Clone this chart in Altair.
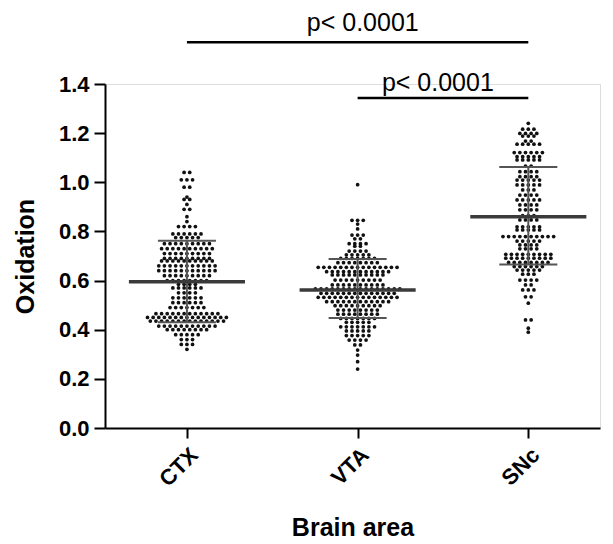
import altair as alt
import pandas as pd

groups = ["CTX", "VTA", "SNc"]

# dot rows: value level and number of dots in the row
ctx_vals = [1.04, 1.01, 0.98, 0.94, 0.93, 0.91, 0.89, 0.86, 0.84, 0.82, 0.79, 0.775, 0.75, 0.73, 0.71, 0.69,
            0.68, 0.66, 0.64, 0.62, 0.60, 0.585, 0.57, 0.55, 0.53, 0.51, 0.49, 0.465, 0.45, 0.435, 0.415,
            0.40, 0.38, 0.36, 0.34, 0.32]
ctx_counts = [2, 3, 2, 1, 2, 1, 2, 1, 1, 4, 6, 5, 9, 10, 9, 9,
              10, 11, 11, 9, 8, 4, 6, 4, 6, 6, 7, 12, 15, 14, 11,
              8, 5, 3, 3, 1]

vta_vals = [0.99, 0.845, 0.83, 0.81, 0.785, 0.77, 0.75, 0.74, 0.72, 0.705, 0.69, 0.673, 0.654, 0.636, 0.623,
            0.602, 0.582, 0.566, 0.548, 0.532, 0.514, 0.498, 0.48, 0.463, 0.446, 0.43, 0.412, 0.395, 0.376,
            0.358, 0.338, 0.317, 0.297, 0.27, 0.24]
vta_counts = [1, 3, 1, 1, 3, 2, 4, 2, 4, 5, 7, 8, 15, 12, 10,
              9, 10, 16, 14, 15, 12, 9, 8, 8, 7, 5, 7, 5, 5,
              4, 2, 1, 1, 1, 1]

snc_vals = [1.24, 1.216, 1.199, 1.188, 1.168, 1.155, 1.121, 1.104, 1.091, 1.066, 1.043, 1.023, 1.009, 0.989,
            0.969, 0.948, 0.928, 0.908, 0.888, 0.864, 0.847, 0.819, 0.806, 0.779, 0.761, 0.745, 0.729, 0.707,
            0.691, 0.674, 0.657, 0.643, 0.626, 0.602, 0.582, 0.562, 0.534, 0.508, 0.44, 0.406, 0.39]
snc_counts = [1, 3, 4, 3, 2, 5, 6, 5, 5, 2, 4, 4, 5, 5,
              3, 4, 5, 4, 4, 3, 4, 5, 5, 10, 5, 4, 4, 9,
              9, 8, 6, 5, 3, 4, 2, 3, 2, 1, 2, 1, 1]

means = [0.595, 0.562, 0.86]
sd_upper = [0.762, 0.688, 1.062]
sd_lower = [0.43, 0.448, 0.665]

sig_labels = ["p< 0.0001", "p< 0.0001"]
sig_from = [0, 1]
sig_to = [2, 2]
sig_level = [1.57, 1.343]
sig_text_level = [1.65, 1.405]

# layout constants (x in category units)
STEP = 0.033
MEAN_HALF = 0.34
CAP_HALF = 0.17

rows = []
for gi, (vals, counts) in enumerate([(ctx_vals, ctx_counts), (vta_vals, vta_counts), (snc_vals, snc_counts)]):
    for v, n in zip(vals, counts):
        for i in range(n):
            rows.append({"group": groups[gi], "x": gi + (i - (n - 1) / 2) * STEP, "value": v})
dots = pd.DataFrame(rows)

stats = pd.DataFrame({
    "group": groups,
    "idx": [0, 1, 2],
    "mean": means,
    "hi": sd_upper,
    "lo": sd_lower,
})
stats["m0"] = stats["idx"] - MEAN_HALF
stats["m1"] = stats["idx"] + MEAN_HALF
stats["c0"] = stats["idx"] - CAP_HALF
stats["c1"] = stats["idx"] + CAP_HALF

sig = pd.DataFrame({"label": sig_labels, "x0": sig_from, "x1": sig_to, "y": sig_level, "ty": sig_text_level})
sig["xm"] = (sig["x0"] + sig["x1"]) / 2 + pd.Series([0.03, -0.03])

FONT = "Liberation Sans"
xscale = alt.Scale(domain=[-0.48, 2.42], nice=False, zero=False)
yscale = alt.Scale(domain=[0, 1.4], nice=False)

label_expr = "datum.value == 0 ? 'CTX' : datum.value == 1 ? 'VTA' : 'SNc'"

xaxis = alt.Axis(values=[0, 1, 2], labelExpr=label_expr, title="Brain area", labelAngle=-45,
                 labelFontSize=22, labelFontWeight="bold", labelFont=FONT, labelColor="black",
                 titleFontSize=25, titleFontWeight="bold", titleFont=FONT, titleColor="black",
                 titlePadding=26, labelPadding=6, tickSize=10, tickWidth=2, tickColor="black",
                 domainWidth=2, domainColor="black", grid=False)
yaxis = alt.Axis(values=[0, 0.2, 0.4, 0.6, 0.8, 1.0, 1.2, 1.4], format=".1f", title="Oxidation",
                 labelFontSize=22, labelFontWeight="bold", labelFont=FONT, labelColor="black",
                 titleFontSize=25, titleFontWeight="bold", titleFont=FONT, titleColor="black",
                 titlePadding=20, labelPadding=5, tickSize=11, tickWidth=2, tickColor="black",
                 domainWidth=2, domainColor="black", grid=False)

points = alt.Chart(dots).mark_circle(size=14, color="#111111", opacity=1).encode(
    x=alt.X("x:Q", scale=xscale, axis=xaxis),
    y=alt.Y("value:Q", scale=yscale, axis=yaxis),
)

vline = alt.Chart(stats).mark_rule(color="#555555", strokeWidth=2).encode(
    x="idx:Q", y="lo:Q", y2="hi:Q")
caps_hi = alt.Chart(stats).mark_rule(color="#555555", strokeWidth=2).encode(
    x="c0:Q", x2="c1:Q", y="hi:Q")
caps_lo = alt.Chart(stats).mark_rule(color="#555555", strokeWidth=2).encode(
    x="c0:Q", x2="c1:Q", y="lo:Q")
mean_line = alt.Chart(stats).mark_rule(color="#3a3a3a", strokeWidth=3.5).encode(
    x="m0:Q", x2="m1:Q", y="mean:Q")

sig_rules = alt.Chart(sig).mark_rule(color="black", strokeWidth=2.5, clip=False).encode(
    x="x0:Q", x2="x1:Q", y="y:Q")
sig_text = alt.Chart(sig).mark_text(font=FONT, fontSize=25, color="black", clip=False).encode(
    x="xm:Q", y="ty:Q", text="label:N")

chart = alt.layer(points, vline, caps_hi, caps_lo, mean_line, sig_rules, sig_text).properties(
    width=495, height=344,
    autosize=alt.AutoSizeParams(type="none"),
    padding={"left": 97, "top": 76, "right": 5, "bottom": 112},
).configure_view(stroke=None).configure(background="white")

chart.save("out.html", embed_options={"renderer": "svg", "actions": False})
